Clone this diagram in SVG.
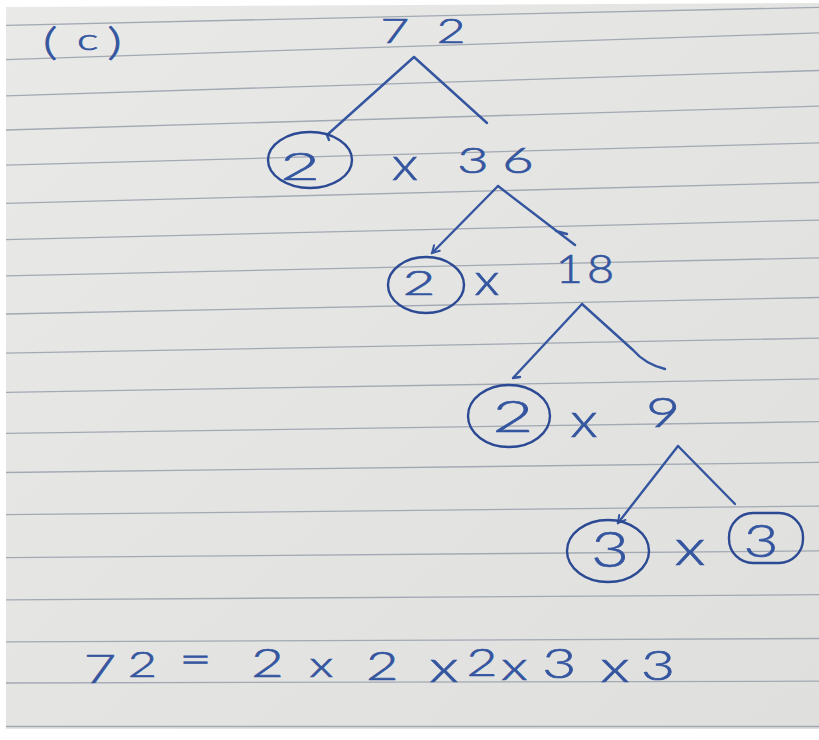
<svg xmlns="http://www.w3.org/2000/svg" width="819" height="740" viewBox="0 0 819 740">
<defs>
<linearGradient id="paper" x1="0" y1="0" x2="1" y2="1">
<stop offset="0" stop-color="#e9e9e7"/>
<stop offset="1" stop-color="#dfdfdd"/>
</linearGradient>
<marker id="tick" viewBox="-10 -6 12 12" markerWidth="12" markerHeight="12" refX="0" refY="0" orient="auto" markerUnits="userSpaceOnUse">
<path d="M-7,-4 L0,0 L-7,4" fill="none" stroke="#34559f" stroke-width="2" stroke-linecap="round"/>
</marker>
<style>
.rule{stroke:#a2a9b3;stroke-width:1.3;fill:none}
.ink{stroke:#34559f;stroke-width:2.4;fill:none;stroke-linecap:round;stroke-linejoin:round}
.ring{stroke:#2c4a94;stroke-width:2.4;fill:none}
.t{font-family:Lato,"Open Sans","DejaVu Sans",sans-serif;font-weight:300;fill:#34559f;stroke:#34559f;stroke-width:0.7;text-anchor:middle}
</style>
</defs>
<rect x="0" y="0" width="819" height="740" fill="#ffffff"/>
<polygon points="6,7 819,3 819,729 6,729" fill="url(#paper)"/>
<g id="rules">
<line class="rule" x1="6" y1="25.3" x2="819" y2="7.3"/>
<line class="rule" x1="6" y1="59.6" x2="819" y2="32.9"/>
<line class="rule" x1="6" y1="95.8" x2="819" y2="70.5"/>
<line class="rule" x1="6" y1="130" x2="819" y2="106.2"/>
<line class="rule" x1="6" y1="165.2" x2="819" y2="142.8"/>
<line class="rule" x1="6" y1="203.4" x2="819" y2="182.5"/>
<line class="rule" x1="6" y1="239.7" x2="819" y2="220.1"/>
<line class="rule" x1="6" y1="275.9" x2="819" y2="257.8"/>
<line class="rule" x1="6" y1="314" x2="819" y2="297.5"/>
<line class="rule" x1="6" y1="353.2" x2="819" y2="338.2"/>
<line class="rule" x1="6" y1="392.3" x2="819" y2="378.9"/>
<line class="rule" x1="6" y1="433.4" x2="819" y2="421.7"/>
<line class="rule" x1="6" y1="472.5" x2="819" y2="462.4"/>
<line class="rule" x1="6" y1="514.7" x2="819" y2="506.1"/>
<line class="rule" x1="6" y1="557.7" x2="819" y2="550.9"/>
<line class="rule" x1="6" y1="599.8" x2="819" y2="594.7"/>
<line class="rule" x1="6" y1="641.9" x2="819" y2="638.5"/>
<line class="rule" x1="6" y1="683" x2="819" y2="681.2"/>
<line class="rule" x1="6" y1="726.5" x2="819" y2="726.5"/>
</g>
<g id="connectors">
<path class="ink" d="M414,57 L327,135 L329,140"/>
<path class="ink" d="M414,57 L487,123"/>
<path class="ink" d="M498,186 L432,253" marker-end="url(#tick)"/>
<path class="ink" d="M498,186 L575,245 M556,231 L567,234"/>
<path class="ink" d="M582,304 L513,378 L520,377"/>
<path class="ink" d="M582,304 L633,350 Q645,364 665,369"/>
<path class="ink" d="M678,446 L618,523" marker-end="url(#tick)"/>
<path class="ink" d="M678,446 L735,504"/>
</g>
<g id="label-c">
<text class="t" font-size="38" transform="translate(83,0) scale(1.5,1)"><tspan x="-22" y="55">(</tspan><tspan x="3" y="50" font-size="30">c</tspan><tspan x="21" y="55">)</tspan></text>
</g>
<g id="n72">
<text class="t" font-size="33" transform="translate(423,0) scale(1.5,1)"><tspan x="-18.7" y="43">7</tspan><tspan x="18.7" y="43">2</tspan></text>
</g>
<g id="n2a">
<ellipse class="ring" cx="310" cy="160" rx="42" ry="28"/>
<text class="t" x="0" y="180" font-size="38" transform="translate(300,0) scale(1.8,1)">2</text>
</g>
<g id="x1"><text class="t" x="0" y="180" font-size="46" transform="translate(405,0) scale(1.2,1)">x</text></g>
<g id="n36">
<text class="t" font-size="36" transform="translate(495,0) scale(1.5,1)"><tspan x="-14.7" y="173">3</tspan><tspan x="15.3" y="173">6</tspan></text>
</g>
<g id="n2b">
<ellipse class="ring" cx="426" cy="285" rx="38" ry="28"/>
<text class="t" x="0" y="295" font-size="33" transform="translate(419,0) scale(1.7,1)">2</text>
</g>
<g id="x2"><text class="t" x="0" y="295" font-size="44" transform="translate(487,0) scale(1.2,1)">x</text></g>
<g id="n18">
<text class="t" font-size="39" transform="translate(585,0) scale(1.2,1)"><tspan x="-13" y="283">1</tspan><tspan x="13" y="283">8</tspan></text>
</g>
<g id="n2c">
<ellipse class="ring" cx="509" cy="416" rx="41" ry="31"/>
<text class="t" x="0" y="432" font-size="44" transform="translate(513,0) scale(1.6,1)">2</text>
</g>
<g id="x3"><text class="t" x="0" y="437" font-size="48" transform="translate(584,0) scale(1.2,1)">x</text></g>
<g id="n9"><text class="t" x="0" y="427" font-size="42" transform="translate(663,0) scale(1.4,1)">9</text></g>
<g id="n3a">
<ellipse class="ring" cx="608" cy="551" rx="41" ry="31"/>
<text class="t" x="0" y="567" font-size="50" transform="translate(610,0) scale(1.3,1)">3</text>
</g>
<g id="x4"><text class="t" x="0" y="565" font-size="50" transform="translate(690,0) scale(1.3,1)">x</text></g>
<g id="n3b">
<rect class="ring" x="729" y="513" width="74" height="50" rx="24"/>
<text class="t" x="0" y="557" font-size="46" transform="translate(761,0) scale(1.3,1)">3</text>
</g>
<g id="equation">
<text class="t" font-size="40" transform="translate(380,0) scale(1.4,1)"><tspan x="-200" y="683">7</tspan><tspan x="-164.3" y="677" font-size="36">2</tspan> <tspan x="-126.4" y="673">=</tspan> <tspan x="-75" y="677">2</tspan> <tspan x="-36.4" y="677" font-size="36">x</tspan> <tspan x="7.1" y="680">2</tspan> <tspan x="45.7" y="682" font-size="44">x</tspan><tspan x="72.9" y="676" font-size="38">2</tspan><tspan x="101.4" y="680">x</tspan> <tspan x="133.6" y="678" font-size="42">3</tspan> <tspan x="167.9" y="682" font-size="44">x</tspan><tspan x="198.6" y="680" font-size="42">3</tspan></text>
</g>
</svg>
